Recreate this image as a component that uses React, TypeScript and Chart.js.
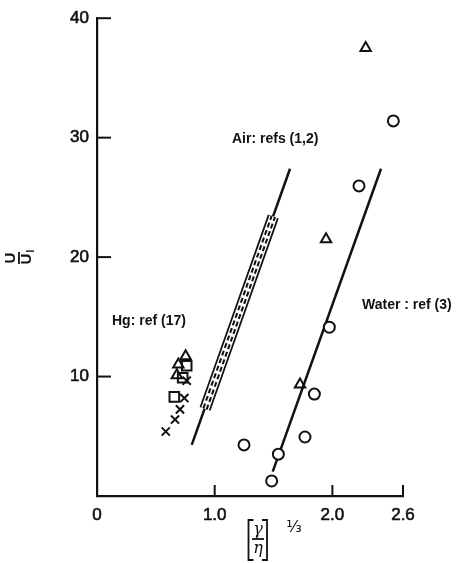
import React, { useEffect, useRef } from 'react';
import { Chart, registerables } from 'chart.js';

Chart.register(...registerables);

// Axis ticks
const xTickValues = [0, 1.0, 2.0, 2.6];
const xTickLabels = ['0', '1.0', '2.0', '2.6'];
const yTickValues = [10, 20, 30, 40];
const yTickLabels = ['10', '20', '30', '40'];

// Water data (ref 3): circles and triangles
const waterCircleX = [2.518, 2.226, 1.974, 1.847, 1.767, 1.541, 1.484, 1.249];
const waterCircleY = [31.4, 25.96, 14.13, 8.53, 4.94, 3.5, 1.26, 4.28];
const waterTriX = [2.283, 1.946, 1.725];
const waterTriY = [37.5, 21.5, 9.34];

// Hg data (ref 17)
const hgTriX = [0.691, 0.753, 0.678];
const hgTriY = [11.0, 11.7, 10.1];
const hgSquareX = [0.657, 0.728, 0.762];
const hgSquareY = [8.3, 9.9, 10.9];
const hgCrossX = [0.584, 0.663, 0.705, 0.742, 0.762];
const hgCrossY = [5.4, 6.4, 7.25, 8.2, 9.65];

// Air fit line and hatched band (refs 1,2)
const airLineX = [0.805, 1.64];
const airLineY = [4.28, 27.4];
const airBandX = [0.918, 1.498];
const airBandY = [7.3, 23.4];

// Water fit line
const waterLineX = [1.493, 2.413];
const waterLineY = [2.04, 27.4];

const pts = (xs: number[], ys: number[]) => xs.map((x, i) => ({ x, y: ys[i] }));

const INK = '#111';

const annotPlugin = {
  id: 'annot',
  afterDraw(chart: any) {
    const ctx = chart.ctx as CanvasRenderingContext2D;
    const { left, bottom } = chart.chartArea;
    const xs = chart.scales.x;
    const ys = chart.scales.y;
    ctx.save();
    ctx.strokeStyle = INK;
    ctx.fillStyle = INK;
    ctx.lineWidth = 2;
    ctx.lineCap = 'butt';
    // inward tick marks
    yTickValues.forEach((v) => {
      const py = ys.getPixelForValue(v);
      ctx.beginPath();
      ctx.moveTo(left, py);
      ctx.lineTo(left + 14, py);
      ctx.stroke();
    });
    xTickValues.filter((v) => v > 0).forEach((v) => {
      const px = xs.getPixelForValue(v);
      ctx.beginPath();
      ctx.moveTo(px, bottom);
      ctx.lineTo(px, bottom - 11);
      ctx.stroke();
    });

    // series labels
    ctx.font = "bold 14px 'Liberation Sans', sans-serif";
    ctx.textBaseline = 'middle';
    ctx.textAlign = 'left';
    ctx.fillText('Air: refs (1,2)', 232, 139);
    ctx.fillText('Water : ref (3)', 362, 305);
    ctx.fillText('Hg: ref (17)', 112, 321);

    // x-axis title: [γ/η]^(1/3)
    ctx.lineWidth = 1.8;
    ctx.beginPath();
    ctx.moveTo(253.5, 520);
    ctx.lineTo(248.5, 520);
    ctx.lineTo(248.5, 560);
    ctx.lineTo(253.5, 560);
    ctx.moveTo(262, 520);
    ctx.lineTo(267, 520);
    ctx.lineTo(267, 560);
    ctx.lineTo(262, 560);
    ctx.stroke();
    ctx.beginPath();
    ctx.moveTo(252, 539);
    ctx.lineTo(264, 539);
    ctx.stroke();
    ctx.textAlign = 'center';
    ctx.font = "italic 16px 'DejaVu Serif', serif";
    ctx.fillText('γ', 258, 530);
    ctx.fillText('η', 258, 549);
    ctx.font = "16px 'DejaVu Sans', sans-serif";
    ctx.fillText('⅓', 294, 528);

    // y-axis title: U / U_I (rotated)
    ctx.save();
    ctx.translate(19, 258);
    ctx.rotate(-Math.PI / 2);
    ctx.font = "bold 15px 'Liberation Sans', sans-serif";
    ctx.textAlign = 'center';
    ctx.textBaseline = 'middle';
    ctx.fillText('U', 0, -8);
    ctx.lineWidth = 1.8;
    ctx.beginPath();
    ctx.moveTo(-6, 0);
    ctx.lineTo(6, 0);
    ctx.stroke();
    ctx.fillText('U', -1, 8);
    ctx.font = "bold 10px 'Liberation Sans', sans-serif";
    ctx.fillText('I', 7, 12);
    ctx.restore();

    ctx.restore();
  },
};

export default function App() {
  const ref = useRef<HTMLCanvasElement>(null);
  useEffect(() => {
    if (!ref.current) return;
    const lineDs = (data: any, width: number, color: string, order: number, dash: number[] = []) => ({
      type: 'scatter',
      data,
      showLine: true,
      borderColor: color,
      borderWidth: width,
      borderDash: dash,
      borderCapStyle: 'butt',
      pointRadius: 0,
      pointHoverRadius: 0,
      fill: false,
      order,
    });
    const marker = (data: any, style: string, radius: number, bg: string) => ({
      data,
      pointStyle: style,
      pointRadius: radius,
      borderColor: INK,
      backgroundColor: bg,
      borderWidth: 2,
      order: 0,
    });
    const tickFont = { family: "'Liberation Sans', sans-serif", size: 17 };
    const chart = new Chart(ref.current, {
      type: 'scatter',
      data: {
        datasets: [
          marker(pts(waterCircleX, waterCircleY), 'circle', 5.5, '#fff'),
          marker(pts(waterTriX, waterTriY), 'triangle', 6, 'rgba(0,0,0,0)'),
          marker(pts(hgTriX, hgTriY), 'triangle', 6, 'rgba(0,0,0,0)'),
          marker(pts(hgSquareX, hgSquareY), 'rect', 6.8, 'rgba(0,0,0,0)'),
          marker(pts(hgCrossX, hgCrossY), 'crossRot', 5.8, 'rgba(0,0,0,0)'),
          lineDs(pts(airBandX, airBandY), 1.4, '#fff', 1),
          lineDs(pts(airBandX, airBandY), 5.5, INK, 2, [5, 3]),
          lineDs(pts(airBandX, airBandY), 8, '#fff', 3),
          lineDs(pts(airBandX, airBandY), 11.5, INK, 4),
          lineDs(pts(airLineX, airLineY), 2.5, INK, 5),
          lineDs(pts(waterLineX, waterLineY), 2.5, INK, 5),
        ] as any,
      },
      options: {
        animation: false,
        responsive: false,
        events: [],
        layout: { padding: { left: 0, top: 16, right: 53, bottom: 0 } },
        plugins: {
          legend: { display: false },
          tooltip: { enabled: false },
          title: { display: false },
        },
        scales: {
          x: {
            type: 'linear',
            min: 0,
            max: 2.6,
            grid: { display: false, drawTicks: false },
            border: { display: true, color: INK, width: 2.2 },
            afterBuildTicks: (s: any) => {
              s.ticks = xTickValues.map((value) => ({ value }));
            },
            afterFit: (s: any) => {
              s.height = 563 - 496;
            },
            ticks: {
              autoSkip: false,
              maxRotation: 0,
              padding: 9,
              color: INK,
              textStrokeColor: INK,
              textStrokeWidth: 0.6,
              font: tickFont,
              callback: (_v: any, i: number) => xTickLabels[i],
            },
          },
          y: {
            type: 'linear',
            min: 0,
            max: 40,
            grid: { display: false, drawTicks: false },
            border: { display: true, color: INK, width: 2.2 },
            afterBuildTicks: (s: any) => {
              s.ticks = yTickValues.map((value) => ({ value }));
            },
            afterFit: (s: any) => {
              s.width = 97;
            },
            ticks: {
              autoSkip: false,
              padding: 8,
              color: INK,
              textStrokeColor: INK,
              textStrokeWidth: 0.6,
              font: tickFont,
              callback: (_v: any, i: number) => yTickLabels[i],
            },
          },
        },
      } as any,
      plugins: [annotPlugin],
    });
    return () => chart.destroy();
  }, []);
  return (
    <div style={{ position: 'fixed', left: 0, top: 0, width: 456, height: 563, background: '#fff' }}>
      <canvas ref={ref} width={456} height={563} style={{ display: 'block' }} />
    </div>
  );
}
